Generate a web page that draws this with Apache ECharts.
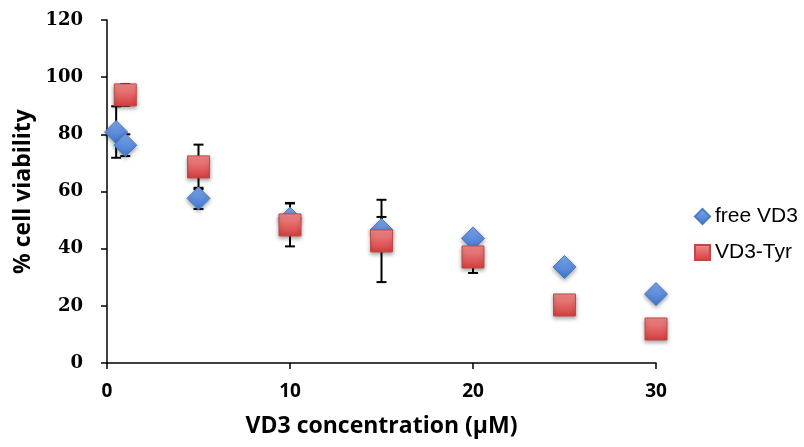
<!DOCTYPE html>
<html><head><meta charset="utf-8">
<script src="https://cdn.jsdelivr.net/npm/echarts@6/dist/echarts.min.js"></script>
<style>html,body{margin:0;padding:0;background:#fff}#c{width:804px;height:447px}</style>
</head><body><div id="c"></div>
<script>
var freeX = [0.5, 1, 5, 10, 15, 20, 25, 30];
var freeY = [80.8, 76.2, 57.6, 50.5, 46.5, 43.6, 33.6, 24.1];
var freeErr = [9, 3.8, 3.7, 5.5, 4.6, 1.5, 0.8, 1.2];
var tyrX = [1, 5, 10, 15, 20, 25, 30];
var tyrY = [93.8, 68.6, 48.3, 42.7, 37.1, 20.3, 11.9];
var tyrErr = [3.8, 7.8, 7.5, 14.4, 5.6, 0.5, 0.5];
var xTicks = [0, 10, 20, 30];
var yTicks = [0, 20, 40, 60, 80, 100, 120];

function pairs(xs, ys, es) { return xs.map(function (x, i) { return es ? [x, ys[i], es[i]] : [x, ys[i]]; }); }

function errItem(params, api) {
  var x = api.value(0), y = api.value(1), e = api.value(2);
  var hi = api.coord([x, y + e]), lo = api.coord([x, y - e]);
  var w = 5;
  var st = { stroke: '#000', lineWidth: 2 };
  return { type: 'group', children: [
    { type: 'line', shape: { x1: hi[0], y1: hi[1], x2: lo[0], y2: lo[1] }, style: st },
    { type: 'line', shape: { x1: hi[0] - w, y1: hi[1], x2: hi[0] + w, y2: hi[1] }, style: st },
    { type: 'line', shape: { x1: lo[0] - w, y1: lo[1], x2: lo[0] + w, y2: lo[1] }, style: st }
  ] };
}

var blue = new echarts.graphic.LinearGradient(0, 0, 0, 1, [{ offset: 0, color: '#7fa9ee' }, { offset: 1, color: '#3e75cc' }]);
var red = new echarts.graphic.LinearGradient(0, 0, 0, 1, [{ offset: 0, color: '#f28d8d' }, { offset: 1, color: '#d43d3d' }]);

var chart = echarts.init(document.getElementById('c'));
chart.setOption({
  animation: false,
  backgroundColor: '#fff',
  grid: { left: 107, right: 148, top: 20, bottom: 84 },
  legend: {
    orient: 'vertical', left: 689, top: 201, itemGap: 15, itemWidth: 15, itemHeight: 15,
    textStyle: { fontFamily: 'Liberation Sans, Arial', fontSize: 21, color: '#000', padding: [0, 0, 0, 0] },
    data: [{ name: 'free VD3', icon: 'diamond' }, { name: 'VD3-Tyr', icon: 'rect' }]
  },
  xAxis: {
    type: 'value', min: 0, max: 30, interval: 10,
    name: 'VD3 concentration (\u03bcM)', nameLocation: 'middle', nameGap: 52,
    nameTextStyle: { fontFamily: 'Open Sans, Liberation Sans', fontWeight: 'bold', fontSize: 23, color: '#000' },
    axisLine: { lineStyle: { color: '#000', width: 1.5 } },
    axisTick: { show: true, length: 6, lineStyle: { color: '#000', width: 1.5 } },
    axisLabel: { fontFamily: 'Open Sans, Liberation Sans', fontWeight: 'bold', fontSize: 19, color: '#000', margin: 19 },
    splitLine: { show: false }
  },
  yAxis: {
    type: 'value', min: 0, max: 120, interval: 20,
    name: '% cell viability', nameLocation: 'middle', nameGap: 71, nameRotate: 90,
    nameTextStyle: { fontFamily: 'Open Sans, Liberation Sans', fontWeight: 'bold', fontSize: 23, color: '#000' },
    axisLine: { show: true, lineStyle: { color: '#000', width: 1.5 } },
    axisTick: { show: true, length: 6, lineStyle: { color: '#000', width: 1.5 } },
    axisLabel: { fontFamily: 'DejaVu Serif', fontWeight: 'bold', fontSize: 18, color: '#000', margin: 24 },
    splitLine: { show: false }
  },
  series: [
    { type: 'custom', name: 'errFree', renderItem: errItem, data: pairs(freeX, freeY, freeErr), z: 1, silent: true },
    { type: 'custom', name: 'errTyr', renderItem: errItem, data: pairs(tyrX, tyrY, tyrErr), z: 1, silent: true },
    { type: 'scatter', name: 'free VD3', symbol: 'diamond', symbolSize: 23, z: 3,
      itemStyle: { color: blue, opacity: 1, borderColor: '#4a7cc4', borderWidth: 1, shadowColor: 'rgba(0,0,0,0.35)', shadowBlur: 4, shadowOffsetY: 2 },
      data: pairs(freeX, freeY) },
    { type: 'scatter', name: 'VD3-Tyr', symbol: 'rect', symbolSize: 22, z: 4,
      itemStyle: { color: red, opacity: 1, borderColor: '#c04848', borderWidth: 1, shadowColor: 'rgba(0,0,0,0.35)', shadowBlur: 4, shadowOffsetY: 2 },
      data: pairs(tyrX, tyrY) }
  ]
});
</script></body></html>
